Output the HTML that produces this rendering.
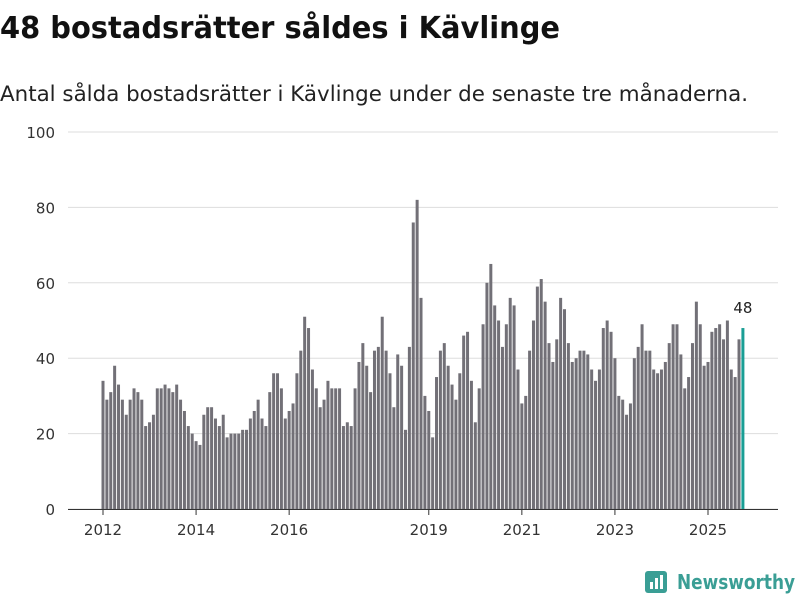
<!DOCTYPE html>
<html><head><meta charset="utf-8"><style>
body{margin:0;background:#fff;width:800px;height:600px;overflow:hidden;font-family:"Liberation Sans","DejaVu Sans",sans-serif}
</style></head><body>
<svg width="800" height="600" style="position:absolute;left:0;top:0">
<text x="0" y="38" font-size="30" font-weight="bold" fill="#111" font-family="DejaVu Sans, sans-serif" textLength="560" lengthAdjust="spacingAndGlyphs">48 bostadsrätter såldes i Kävlinge</text>
<text x="0" y="101" font-size="21" fill="#222" font-family="DejaVu Sans, sans-serif" textLength="748" lengthAdjust="spacingAndGlyphs">Antal sålda bostadsrätter i Kävlinge under de senaste tre månaderna.</text>
<g id="grid"></g><g id="bars"></g><g id="xaxis"></g>
<g>
<rect x="645" y="571" width="22" height="22" rx="3" fill="#3a9e95"/>
<rect x="650" y="582" width="3" height="7" fill="#fff"/><rect x="655" y="578" width="3" height="11" fill="#fff"/><rect x="660" y="575" width="3" height="14" fill="#fff"/>
<text x="677" y="589" font-size="20" font-weight="bold" fill="#3a9e95" font-family="DejaVu Sans, sans-serif" textLength="118" lengthAdjust="spacingAndGlyphs">Newsworthy</text>
</g>
</svg>
<script>
const values=[34,29,31,38,33,29,25,29,32,31,29,22,
23,25,32,32,33,32,31,33,29,26,22,20,
18,17,25,27,27,24,22,25,19,20,20,20,
21,21,24,26,29,24,22,31,36,36,32,24,
26,28,36,42,51,48,37,32,27,29,34,32,
32,32,22,23,22,32,39,44,38,31,42,43,
51,42,36,27,41,38,21,43,76,82,56,30,
26,19,35,42,44,38,33,29,36,46,47,34,
23,32,49,60,65,54,50,43,49,56,54,37,
28,30,42,50,59,61,55,44,39,45,56,53,
44,39,40,42,42,41,37,34,37,48,50,47,
40,30,29,25,28,40,43,49,42,42,37,36,
37,39,44,49,49,41,32,35,44,55,49,38,
39,47,48,49,45,50,37,35,45,48];
const yTicks=[0,20,40,60,80,100];
const xTickYears=[2012,2014,2016,2019,2021,2023,2025];
const NS="http://www.w3.org/2000/svg";
const y=v=>509-v*3.77;
const x=i=>103+i*(605/156);
function mk(t,a,p){const e=document.createElementNS(NS,t);for(const k in a)e.setAttribute(k,a[k]);p.appendChild(e);return e;}
const grid=document.getElementById('grid'),bars=document.getElementById('bars'),xa=document.getElementById('xaxis');
yTicks.forEach(v=>{
 const l=mk('line',{x1:68,x2:778,y1:y(v),y2:y(v),stroke:'#dddddd','stroke-width':1},grid);
 
 
 const t=mk('text',{x:55,y:y(v)+6,'text-anchor':'end','font-size':15,fill:'#333','font-family':'DejaVu Sans, sans-serif'},grid);
 t.textContent=v;
 
 
});
values.forEach((v,i)=>{
 const last=i===values.length-1;
 const r=mk('rect',{x:x(i)-1.5,y:y(v),width:3,height:509-y(v),fill:last?'#1a9e95':'#727077'},bars);
 
 
 if(last){const t=mk('text',{x:x(i),y:y(v)-15,'text-anchor':'middle','font-size':15,fill:'#222','font-family':'DejaVu Sans, sans-serif'},bars);
  t.textContent=v;
  
  }
});
const ax=mk('line',{x1:68,x2:778,y1:509.5,y2:509.5,stroke:'#333','stroke-width':1},xa);


xTickYears.forEach(yr=>{
 const xx=x((yr-2012)*12);
 mk('line',{x1:xx,x2:xx,y1:509,y2:515,stroke:'#333'},xa);
 const t=mk('text',{x:xx,y:535,'text-anchor':'middle','font-size':15,fill:'#333','font-family':'DejaVu Sans, sans-serif'},xa);
 t.textContent=yr;
 
 
});
</script>
</body></html>
